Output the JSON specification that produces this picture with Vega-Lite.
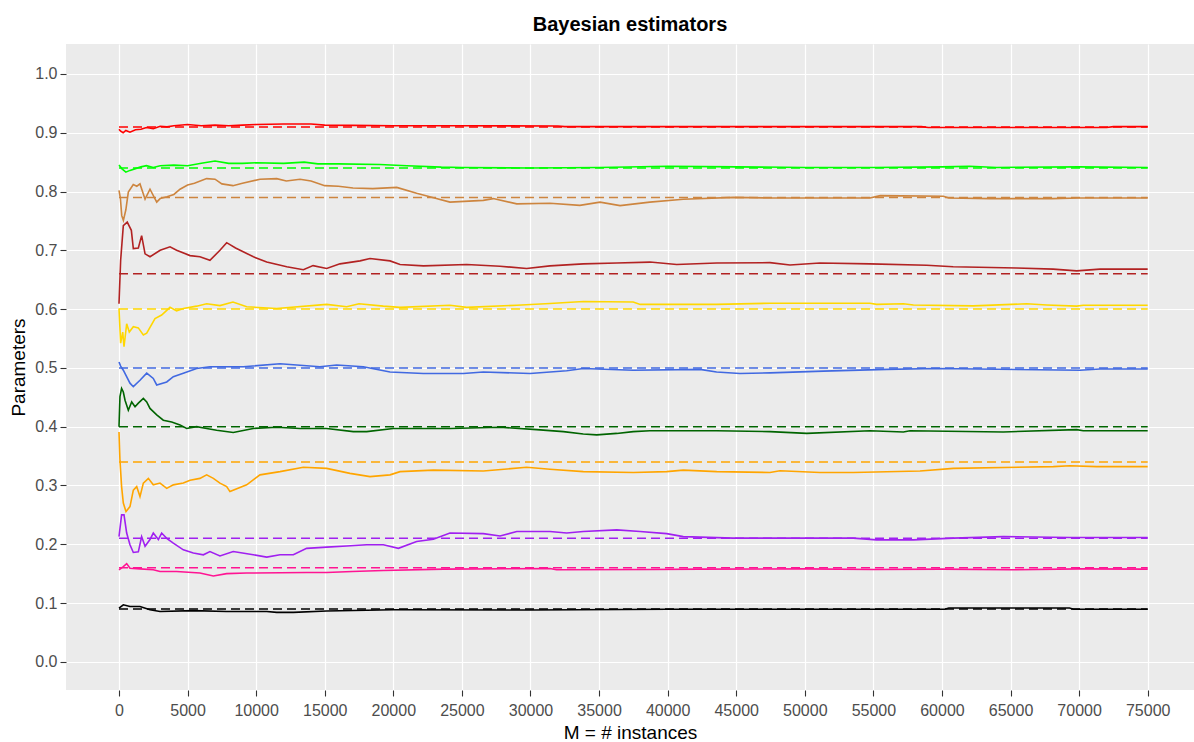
{
"$schema": "https://vega.github.io/schema/vega-lite/v6.json",
"width": 1128, "height": 646,
"autosize": {"type": "none"},
"padding": {"left": 66, "top": 44, "right": 0, "bottom": 52},
"background": "white",
"title": {"text": "Bayesian estimators", "font": "Liberation Sans", "fontSize": 20, "fontWeight": "bold", "color": "black", "anchor": "middle", "offset": 9},
"config": {
  "view": {"fill": "#EBEBEB", "stroke": null},
  "axis": {"domain": false, "gridColor": "white", "gridWidth": 1.2, "tickColor": "#333333", "tickSize": 6, "tickWidth": 1.1, "labelFont": "Liberation Sans", "labelFontSize": 16, "labelColor": "#4D4D4D", "titleFont": "Liberation Sans", "titleFontSize": 19, "titleFontWeight": "normal", "titleColor": "black", "labelPadding": 3, "labelOverlap": false}
},
"datasets": {
"truth": [
{"p":"t1","v":0.91},{"p":"t2","v":0.84},{"p":"t3","v":0.79},{"p":"t4","v":0.66},{"p":"t5","v":0.60},{"p":"t6","v":0.50},{"p":"t7","v":0.40},{"p":"t8","v":0.34},{"p":"t9","v":0.21},{"p":"t10","v":0.16},{"p":"t11","v":0.09}
],
"est": [
{"p":"t1","m":0,"v":0.906},{"p":"t1","m":100,"v":0.903},{"p":"t1","m":300,"v":0.900},{"p":"t1","m":500,"v":0.904},{"p":"t1","m":800,"v":0.901},{"p":"t1","m":1200,"v":0.905},{"p":"t1","m":1600,"v":0.906},{"p":"t1","m":2000,"v":0.909},{"p":"t1","m":2500,"v":0.907},{"p":"t1","m":3000,"v":0.911},{"p":"t1","m":3500,"v":0.910},{"p":"t1","m":4000,"v":0.912},{"p":"t1","m":5000,"v":0.914},{"p":"t1","m":6000,"v":0.912},{"p":"t1","m":7000,"v":0.913},{"p":"t1","m":8000,"v":0.912},{"p":"t1","m":9000,"v":0.913},{"p":"t1","m":10000,"v":0.914},{"p":"t1","m":12000,"v":0.915},{"p":"t1","m":14000,"v":0.915},{"p":"t1","m":15000,"v":0.913},{"p":"t1","m":17000,"v":0.9125},{"p":"t1","m":20000,"v":0.912},{"p":"t1","m":25000,"v":0.912},{"p":"t1","m":32000,"v":0.9115},{"p":"t1","m":32500,"v":0.9105},{"p":"t1","m":40000,"v":0.9105},{"p":"t1","m":50000,"v":0.9105},{"p":"t1","m":58500,"v":0.9105},{"p":"t1","m":59000,"v":0.909},{"p":"t1","m":65000,"v":0.909},{"p":"t1","m":72000,"v":0.909},{"p":"t1","m":72500,"v":0.9105},{"p":"t1","m":75000,"v":0.9105},
{"p":"t2","m":0,"v":0.845},{"p":"t2","m":200,"v":0.839},{"p":"t2","m":500,"v":0.833},{"p":"t2","m":800,"v":0.836},{"p":"t2","m":1200,"v":0.839},{"p":"t2","m":1600,"v":0.842},{"p":"t2","m":2000,"v":0.844},{"p":"t2","m":2500,"v":0.841},{"p":"t2","m":3000,"v":0.844},{"p":"t2","m":4000,"v":0.845},{"p":"t2","m":5000,"v":0.844},{"p":"t2","m":6000,"v":0.848},{"p":"t2","m":7000,"v":0.852},{"p":"t2","m":8000,"v":0.848},{"p":"t2","m":9000,"v":0.848},{"p":"t2","m":10000,"v":0.849},{"p":"t2","m":12000,"v":0.848},{"p":"t2","m":13500,"v":0.850},{"p":"t2","m":14500,"v":0.847},{"p":"t2","m":16000,"v":0.847},{"p":"t2","m":19000,"v":0.846},{"p":"t2","m":21000,"v":0.844},{"p":"t2","m":23500,"v":0.8415},{"p":"t2","m":25000,"v":0.841},{"p":"t2","m":30000,"v":0.840},{"p":"t2","m":35000,"v":0.841},{"p":"t2","m":40000,"v":0.843},{"p":"t2","m":45000,"v":0.842},{"p":"t2","m":50000,"v":0.841},{"p":"t2","m":55000,"v":0.841},{"p":"t2","m":60000,"v":0.842},{"p":"t2","m":62000,"v":0.843},{"p":"t2","m":64000,"v":0.841},{"p":"t2","m":70000,"v":0.842},{"p":"t2","m":75000,"v":0.841},
{"p":"t3","m":0,"v":0.802},{"p":"t3","m":100,"v":0.789},{"p":"t3","m":200,"v":0.759},{"p":"t3","m":320,"v":0.751},{"p":"t3","m":500,"v":0.769},{"p":"t3","m":680,"v":0.799},{"p":"t3","m":1040,"v":0.812},{"p":"t3","m":1300,"v":0.809},{"p":"t3","m":1530,"v":0.813},{"p":"t3","m":1900,"v":0.787},{"p":"t3","m":2260,"v":0.804},{"p":"t3","m":2750,"v":0.782},{"p":"t3","m":3000,"v":0.788},{"p":"t3","m":3500,"v":0.791},{"p":"t3","m":4000,"v":0.795},{"p":"t3","m":4450,"v":0.804},{"p":"t3","m":5000,"v":0.811},{"p":"t3","m":5500,"v":0.814},{"p":"t3","m":6390,"v":0.822},{"p":"t3","m":7000,"v":0.821},{"p":"t3","m":7500,"v":0.813},{"p":"t3","m":8310,"v":0.810},{"p":"t3","m":9000,"v":0.814},{"p":"t3","m":10280,"v":0.821},{"p":"t3","m":11500,"v":0.822},{"p":"t3","m":12200,"v":0.818},{"p":"t3","m":13200,"v":0.821},{"p":"t3","m":14000,"v":0.818},{"p":"t3","m":15000,"v":0.810},{"p":"t3","m":16000,"v":0.809},{"p":"t3","m":17060,"v":0.806},{"p":"t3","m":18500,"v":0.805},{"p":"t3","m":20250,"v":0.807},{"p":"t3","m":21700,"v":0.797},{"p":"t3","m":23000,"v":0.789},{"p":"t3","m":24130,"v":0.782},{"p":"t3","m":26560,"v":0.785},{"p":"t3","m":27280,"v":0.788},{"p":"t3","m":29000,"v":0.779},{"p":"t3","m":31420,"v":0.780},{"p":"t3","m":33600,"v":0.7765},{"p":"t3","m":35070,"v":0.782},{"p":"t3","m":36530,"v":0.776},{"p":"t3","m":38700,"v":0.782},{"p":"t3","m":41140,"v":0.787},{"p":"t3","m":44800,"v":0.790},{"p":"t3","m":47460,"v":0.789},{"p":"t3","m":54750,"v":0.789},{"p":"t3","m":55500,"v":0.793},{"p":"t3","m":60100,"v":0.792},{"p":"t3","m":60500,"v":0.789},{"p":"t3","m":63500,"v":0.788},{"p":"t3","m":68000,"v":0.788},{"p":"t3","m":70000,"v":0.789},{"p":"t3","m":75000,"v":0.789},
{"p":"t4","m":0,"v":0.609},{"p":"t4","m":120,"v":0.683},{"p":"t4","m":315,"v":0.742},{"p":"t4","m":600,"v":0.748},{"p":"t4","m":900,"v":0.734},{"p":"t4","m":1045,"v":0.703},{"p":"t4","m":1410,"v":0.704},{"p":"t4","m":1650,"v":0.725},{"p":"t4","m":1900,"v":0.694},{"p":"t4","m":2260,"v":0.689},{"p":"t4","m":3000,"v":0.700},{"p":"t4","m":3720,"v":0.706},{"p":"t4","m":4200,"v":0.700},{"p":"t4","m":5180,"v":0.691},{"p":"t4","m":5900,"v":0.689},{"p":"t4","m":6630,"v":0.683},{"p":"t4","m":7360,"v":0.700},{"p":"t4","m":7850,"v":0.713},{"p":"t4","m":8500,"v":0.704},{"p":"t4","m":9800,"v":0.689},{"p":"t4","m":10770,"v":0.680},{"p":"t4","m":12230,"v":0.672},{"p":"t4","m":13440,"v":0.667},{"p":"t4","m":14150,"v":0.674},{"p":"t4","m":15140,"v":0.669},{"p":"t4","m":16110,"v":0.677},{"p":"t4","m":17570,"v":0.682},{"p":"t4","m":18300,"v":0.686},{"p":"t4","m":19760,"v":0.682},{"p":"t4","m":20490,"v":0.676},{"p":"t4","m":22200,"v":0.6735},{"p":"t4","m":25350,"v":0.676},{"p":"t4","m":27780,"v":0.673},{"p":"t4","m":29720,"v":0.669},{"p":"t4","m":31420,"v":0.6735},{"p":"t4","m":33850,"v":0.677},{"p":"t4","m":36290,"v":0.6785},{"p":"t4","m":38710,"v":0.680},{"p":"t4","m":40660,"v":0.676},{"p":"t4","m":43580,"v":0.6785},{"p":"t4","m":47460,"v":0.679},{"p":"t4","m":48920,"v":0.675},{"p":"t4","m":51100,"v":0.6785},{"p":"t4","m":54750,"v":0.677},{"p":"t4","m":58890,"v":0.6745},{"p":"t4","m":60820,"v":0.672},{"p":"t4","m":65450,"v":0.670},{"p":"t4","m":68110,"v":0.668},{"p":"t4","m":69820,"v":0.665},{"p":"t4","m":71520,"v":0.668},{"p":"t4","m":75000,"v":0.668},
{"p":"t5","m":0,"v":0.601},{"p":"t5","m":120,"v":0.542},{"p":"t5","m":270,"v":0.561},{"p":"t5","m":365,"v":0.536},{"p":"t5","m":560,"v":0.575},{"p":"t5","m":750,"v":0.561},{"p":"t5","m":1045,"v":0.570},{"p":"t5","m":1410,"v":0.568},{"p":"t5","m":1775,"v":0.556},{"p":"t5","m":2020,"v":0.559},{"p":"t5","m":2625,"v":0.584},{"p":"t5","m":3110,"v":0.590},{"p":"t5","m":3720,"v":0.603},{"p":"t5","m":4200,"v":0.597},{"p":"t5","m":4690,"v":0.601},{"p":"t5","m":5660,"v":0.605},{"p":"t5","m":6390,"v":0.609},{"p":"t5","m":7360,"v":0.606},{"p":"t5","m":8310,"v":0.612},{"p":"t5","m":9310,"v":0.604},{"p":"t5","m":11500,"v":0.601},{"p":"t5","m":15140,"v":0.608},{"p":"t5","m":16600,"v":0.604},{"p":"t5","m":17500,"v":0.609},{"p":"t5","m":19270,"v":0.605},{"p":"t5","m":20490,"v":0.603},{"p":"t5","m":24130,"v":0.6065},{"p":"t5","m":25350,"v":0.603},{"p":"t5","m":29000,"v":0.6065},{"p":"t5","m":31420,"v":0.6095},{"p":"t5","m":33850,"v":0.613},{"p":"t5","m":37490,"v":0.612},{"p":"t5","m":38000,"v":0.608},{"p":"t5","m":43580,"v":0.608},{"p":"t5","m":47460,"v":0.610},{"p":"t5","m":54750,"v":0.610},{"p":"t5","m":55240,"v":0.608},{"p":"t5","m":57190,"v":0.609},{"p":"t5","m":57920,"v":0.607},{"p":"t5","m":62290,"v":0.6055},{"p":"t5","m":66180,"v":0.609},{"p":"t5","m":67640,"v":0.607},{"p":"t5","m":69820,"v":0.605},{"p":"t5","m":70300,"v":0.6065},{"p":"t5","m":75000,"v":0.6065},
{"p":"t6","m":0,"v":0.510},{"p":"t6","m":120,"v":0.503},{"p":"t6","m":315,"v":0.496},{"p":"t6","m":800,"v":0.474},{"p":"t6","m":1045,"v":0.468},{"p":"t6","m":1530,"v":0.479},{"p":"t6","m":2020,"v":0.491},{"p":"t6","m":2500,"v":0.482},{"p":"t6","m":2750,"v":0.471},{"p":"t6","m":3480,"v":0.476},{"p":"t6","m":3960,"v":0.485},{"p":"t6","m":4690,"v":0.491},{"p":"t6","m":5660,"v":0.499},{"p":"t6","m":6630,"v":0.502},{"p":"t6","m":9060,"v":0.502},{"p":"t6","m":11740,"v":0.507},{"p":"t6","m":14650,"v":0.502},{"p":"t6","m":15870,"v":0.505},{"p":"t6","m":17810,"v":0.502},{"p":"t6","m":19760,"v":0.493},{"p":"t6","m":22190,"v":0.4905},{"p":"t6","m":25110,"v":0.4905},{"p":"t6","m":26560,"v":0.493},{"p":"t6","m":29970,"v":0.4905},{"p":"t6","m":32640,"v":0.495},{"p":"t6","m":33850,"v":0.499},{"p":"t6","m":37490,"v":0.496},{"p":"t6","m":42360,"v":0.4975},{"p":"t6","m":43570,"v":0.493},{"p":"t6","m":45270,"v":0.4905},{"p":"t6","m":47460,"v":0.4915},{"p":"t6","m":51350,"v":0.4945},{"p":"t6","m":55970,"v":0.4975},{"p":"t6","m":59620,"v":0.499},{"p":"t6","m":70060,"v":0.496},{"p":"t6","m":71520,"v":0.498},{"p":"t6","m":75000,"v":0.498},
{"p":"t7","m":0,"v":0.400},{"p":"t7","m":70,"v":0.451},{"p":"t7","m":190,"v":0.465},{"p":"t7","m":315,"v":0.459},{"p":"t7","m":440,"v":0.445},{"p":"t7","m":680,"v":0.428},{"p":"t7","m":925,"v":0.442},{"p":"t7","m":1170,"v":0.434},{"p":"t7","m":1410,"v":0.440},{"p":"t7","m":1775,"v":0.448},{"p":"t7","m":2020,"v":0.442},{"p":"t7","m":2260,"v":0.431},{"p":"t7","m":2750,"v":0.420},{"p":"t7","m":3230,"v":0.411},{"p":"t7","m":3840,"v":0.408},{"p":"t7","m":4450,"v":0.403},{"p":"t7","m":4930,"v":0.397},{"p":"t7","m":5660,"v":0.400},{"p":"t7","m":6390,"v":0.397},{"p":"t7","m":7120,"v":0.394},{"p":"t7","m":8330,"v":0.390},{"p":"t7","m":9790,"v":0.397},{"p":"t7","m":11500,"v":0.399},{"p":"t7","m":13200,"v":0.397},{"p":"t7","m":15140,"v":0.397},{"p":"t7","m":17080,"v":0.3915},{"p":"t7","m":18060,"v":0.3915},{"p":"t7","m":20000,"v":0.397},{"p":"t7","m":24130,"v":0.397},{"p":"t7","m":27780,"v":0.399},{"p":"t7","m":30450,"v":0.395},{"p":"t7","m":32400,"v":0.3915},{"p":"t7","m":33850,"v":0.3875},{"p":"t7","m":34830,"v":0.386},{"p":"t7","m":36290,"v":0.3885},{"p":"t7","m":37490,"v":0.3915},{"p":"t7","m":38710,"v":0.393},{"p":"t7","m":43580,"v":0.393},{"p":"t7","m":47460,"v":0.3915},{"p":"t7","m":50140,"v":0.3885},{"p":"t7","m":54750,"v":0.393},{"p":"t7","m":57190,"v":0.391},{"p":"t7","m":57670,"v":0.393},{"p":"t7","m":64470,"v":0.391},{"p":"t7","m":69820,"v":0.395},{"p":"t7","m":70300,"v":0.393},{"p":"t7","m":75000,"v":0.393},
{"p":"t8","m":0,"v":0.391},{"p":"t8","m":70,"v":0.343},{"p":"t8","m":190,"v":0.298},{"p":"t8","m":315,"v":0.270},{"p":"t8","m":510,"v":0.2555},{"p":"t8","m":800,"v":0.264},{"p":"t8","m":1045,"v":0.292},{"p":"t8","m":1290,"v":0.298},{"p":"t8","m":1530,"v":0.281},{"p":"t8","m":1775,"v":0.304},{"p":"t8","m":2140,"v":0.312},{"p":"t8","m":2500,"v":0.301},{"p":"t8","m":2990,"v":0.304},{"p":"t8","m":3480,"v":0.295},{"p":"t8","m":3960,"v":0.301},{"p":"t8","m":4690,"v":0.304},{"p":"t8","m":5180,"v":0.309},{"p":"t8","m":5900,"v":0.312},{"p":"t8","m":6390,"v":0.318},{"p":"t8","m":6880,"v":0.312},{"p":"t8","m":7360,"v":0.304},{"p":"t8","m":7850,"v":0.298},{"p":"t8","m":8090,"v":0.2895},{"p":"t8","m":9310,"v":0.301},{"p":"t8","m":10280,"v":0.318},{"p":"t8","m":11740,"v":0.3235},{"p":"t8","m":13440,"v":0.331},{"p":"t8","m":15140,"v":0.329},{"p":"t8","m":16840,"v":0.3205},{"p":"t8","m":18300,"v":0.315},{"p":"t8","m":19760,"v":0.318},{"p":"t8","m":20490,"v":0.3235},{"p":"t8","m":22920,"v":0.326},{"p":"t8","m":26560,"v":0.3245},{"p":"t8","m":29720,"v":0.331},{"p":"t8","m":31420,"v":0.3275},{"p":"t8","m":33850,"v":0.3235},{"p":"t8","m":37490,"v":0.322},{"p":"t8","m":39930,"v":0.3235},{"p":"t8","m":41140,"v":0.326},{"p":"t8","m":43580,"v":0.3235},{"p":"t8","m":47460,"v":0.322},{"p":"t8","m":48190,"v":0.325},{"p":"t8","m":51100,"v":0.322},{"p":"t8","m":53530,"v":0.322},{"p":"t8","m":58400,"v":0.3245},{"p":"t8","m":60830,"v":0.329},{"p":"t8","m":68120,"v":0.332},{"p":"t8","m":69330,"v":0.3335},{"p":"t8","m":71280,"v":0.332},{"p":"t8","m":75000,"v":0.332},
{"p":"t9","m":0,"v":0.213},{"p":"t9","m":190,"v":0.250},{"p":"t9","m":365,"v":0.250},{"p":"t9","m":560,"v":0.219},{"p":"t9","m":800,"v":0.199},{"p":"t9","m":1045,"v":0.186},{"p":"t9","m":1410,"v":0.187},{"p":"t9","m":1650,"v":0.213},{"p":"t9","m":1900,"v":0.1965},{"p":"t9","m":2260,"v":0.208},{"p":"t9","m":2500,"v":0.219},{"p":"t9","m":2870,"v":0.208},{"p":"t9","m":3110,"v":0.219},{"p":"t9","m":3480,"v":0.210},{"p":"t9","m":3960,"v":0.202},{"p":"t9","m":4690,"v":0.1905},{"p":"t9","m":5420,"v":0.185},{"p":"t9","m":6150,"v":0.182},{"p":"t9","m":6630,"v":0.1876},{"p":"t9","m":7360,"v":0.180},{"p":"t9","m":8330,"v":0.1876},{"p":"t9","m":9790,"v":0.182},{"p":"t9","m":10770,"v":0.178},{"p":"t9","m":11740,"v":0.182},{"p":"t9","m":12710,"v":0.182},{"p":"t9","m":13680,"v":0.193},{"p":"t9","m":15140,"v":0.195},{"p":"t9","m":16600,"v":0.197},{"p":"t9","m":18060,"v":0.199},{"p":"t9","m":19270,"v":0.199},{"p":"t9","m":20370,"v":0.193},{"p":"t9","m":21700,"v":0.2045},{"p":"t9","m":22920,"v":0.2085},{"p":"t9","m":24130,"v":0.219},{"p":"t9","m":26560,"v":0.218},{"p":"t9","m":27780,"v":0.214},{"p":"t9","m":29000,"v":0.2216},{"p":"t9","m":31420,"v":0.2216},{"p":"t9","m":32640,"v":0.219},{"p":"t9","m":33850,"v":0.2216},{"p":"t9","m":36290,"v":0.2244},{"p":"t9","m":37990,"v":0.2216},{"p":"t9","m":39930,"v":0.218},{"p":"t9","m":41140,"v":0.213},{"p":"t9","m":44790,"v":0.2103},{"p":"t9","m":53530,"v":0.2103},{"p":"t9","m":55240,"v":0.2074},{"p":"t9","m":57910,"v":0.2074},{"p":"t9","m":60830,"v":0.2103},{"p":"t9","m":64480,"v":0.213},{"p":"t9","m":69330,"v":0.2115},{"p":"t9","m":75000,"v":0.2115},
{"p":"t10","m":0,"v":0.1565},{"p":"t10","m":315,"v":0.162},{"p":"t10","m":560,"v":0.167},{"p":"t10","m":800,"v":0.159},{"p":"t10","m":1530,"v":0.158},{"p":"t10","m":2500,"v":0.1565},{"p":"t10","m":2990,"v":0.1536},{"p":"t10","m":4200,"v":0.1536},{"p":"t10","m":5900,"v":0.151},{"p":"t10","m":6880,"v":0.146},{"p":"t10","m":7850,"v":0.150},{"p":"t10","m":9310,"v":0.151},{"p":"t10","m":13680,"v":0.152},{"p":"t10","m":15140,"v":0.152},{"p":"t10","m":17000,"v":0.1536},{"p":"t10","m":19270,"v":0.1553},{"p":"t10","m":23650,"v":0.1576},{"p":"t10","m":31420,"v":0.1587},{"p":"t10","m":31900,"v":0.1565},{"p":"t10","m":38710,"v":0.157},{"p":"t10","m":42360,"v":0.1576},{"p":"t10","m":50000,"v":0.158},{"p":"t10","m":55000,"v":0.157},{"p":"t10","m":60000,"v":0.1576},{"p":"t10","m":65000,"v":0.1565},{"p":"t10","m":70000,"v":0.158},{"p":"t10","m":75000,"v":0.1576},
{"p":"t11","m":0,"v":0.0914},{"p":"t11","m":315,"v":0.097},{"p":"t11","m":800,"v":0.0941},{"p":"t11","m":1530,"v":0.0941},{"p":"t11","m":2260,"v":0.0885},{"p":"t11","m":2990,"v":0.0856},{"p":"t11","m":5420,"v":0.087},{"p":"t11","m":7850,"v":0.0856},{"p":"t11","m":10770,"v":0.0856},{"p":"t11","m":11500,"v":0.084},{"p":"t11","m":12710,"v":0.084},{"p":"t11","m":15140,"v":0.0865},{"p":"t11","m":20000,"v":0.0885},{"p":"t11","m":30000,"v":0.088},{"p":"t11","m":40000,"v":0.0895},{"p":"t11","m":47000,"v":0.0895},{"p":"t11","m":60200,"v":0.0895},{"p":"t11","m":60500,"v":0.0915},{"p":"t11","m":69300,"v":0.0915},{"p":"t11","m":69600,"v":0.0895},{"p":"t11","m":75000,"v":0.0895}
]
},
"layer": [
{
"data": {"name": "est"},
"mark": {"type": "line", "strokeWidth": 1.6},
"encoding": {
"x": {"field": "m", "type": "quantitative", "scale": {"domain": [-3864, 78376], "nice": false, "zero": false}, "axis": {"title": "M = # instances", "values": [0,5000,10000,15000,20000,25000,30000,35000,40000,45000,50000,55000,60000,65000,70000,75000], "format": "d", "labelFlush": false, "labelPadding": 6, "titlePadding": 5}},
"y": {"field": "v", "type": "quantitative", "scale": {"domain": [-0.048, 1.051], "nice": false, "zero": false}, "axis": {"title": "Parameters", "values": [0,0.05,0.1,0.15,0.2,0.25,0.3,0.35,0.4,0.45,0.5,0.55,0.6,0.65,0.7,0.75,0.8,0.85,0.9,0.95,1.0], "labelExpr": "abs(datum.value*10 - round(datum.value*10)) < 0.01 ? format(datum.value, '.1f') : ''", "tickOpacity": {"condition": {"test": "abs(datum.value*10 - round(datum.value*10)) > 0.01", "value": 0}, "value": 1}, "titlePadding": 6}},
"color": {"field": "p", "type": "nominal", "scale": {"domain": ["t1","t2","t3","t4","t5","t6","t7","t8","t9","t10","t11"], "range": ["#FF0000","#00FF00","#CD853F","#B22222","#FFD700","#4169E1","#006400","#FFA500","#A020F0","#FF1493","#000000"]}, "legend": null}
}
},
{
"data": {"name": "truth"},
"mark": {"type": "rule", "strokeWidth": 1.5, "strokeDash": [9, 5]},
"encoding": {
"x": {"datum": 0},
"x2": {"datum": 75000},
"y": {"field": "v", "type": "quantitative"},
"color": {"field": "p", "type": "nominal", "legend": null}
}
}
]
}
